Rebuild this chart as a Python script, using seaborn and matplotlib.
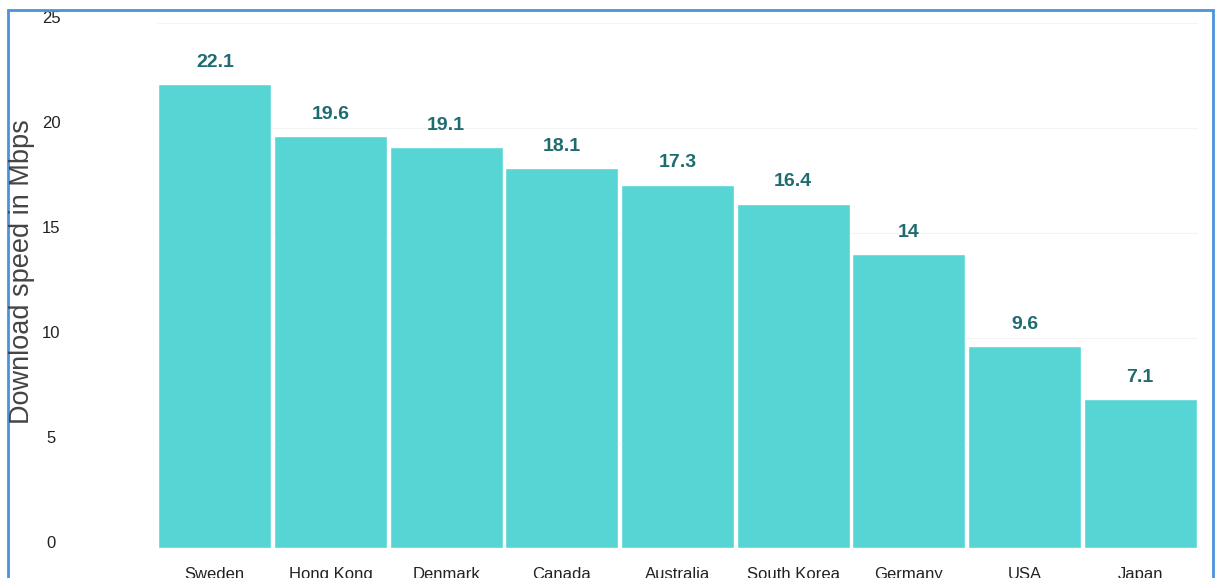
import matplotlib.pyplot as plt
import matplotlib.transforms as mtransforms
import pandas as pd
import seaborn as sns
from matplotlib.patches import Rectangle

# data
countries = ["Sweden", "Hong Kong", "Denmark", "Canada", "Australia",
             "South Korea", "Germany", "USA", "Japan"]
speeds = [22.1, 19.6, 19.1, 18.1, 17.3, 16.4, 14, 9.6, 7.1]
value_labels = ["22.1", "19.6", "19.1", "18.1", "17.3", "16.4", "14", "9.6", "7.1"]
y_ticks = [0, 5, 10, 15, 20, 25]

df = pd.DataFrame({"country": countries, "speed": speeds})

sns.set_style("white")
plt.rcParams['font.family'] = ['Liberation Sans', 'DejaVu Sans']

bar_color = '#57d5d4'
label_color = '#1e6b70'

fig = plt.figure(figsize=(12.17, 5.78), dpi=100)
ax = fig.add_axes([157 / 1217, 30 / 578, (1198 - 157) / 1217, (548 - 23) / 578])

sns.barplot(data=df, x="country", y="speed", color=bar_color, saturation=1,
            width=0.975, ax=ax)

for i, (v, lab) in enumerate(zip(speeds, value_labels)):
  ax.annotate(lab, (i, v), xytext=(0, 12.5), textcoords='offset points',
              ha='center', va='baseline', fontsize=14, fontweight='bold',
              color=label_color)

ax.set_xlim(-0.5, len(countries) - 0.5)
ax.set_ylim(0, 25)
ax.set_yticks(y_ticks)
ax.yaxis.grid(True, color='#f4f4f4', linewidth=0.8)
ax.set_axisbelow(True)
for s in ax.spines.values():
  s.set_visible(False)

ax.tick_params(axis='y', length=0, pad=76, labelsize=12, labelcolor='#222222')
ax.tick_params(axis='x', length=0, pad=14, labelsize=12, labelcolor='#222222')
shift = mtransforms.ScaledTranslation(0, 4 / 72, fig.dpi_scale_trans)
for t in ax.get_yticklabels():
  t.set_horizontalalignment('center')
  t.set_transform(t.get_transform() + shift)
ax.set_xlabel("")
ax.set_ylabel("")

fig.text(22 / 1217, 1 - 272 / 578, "Download speed in Mbps", rotation=90,
         ha='center', va='center', fontsize=19.5, color='#444444')

# blue frame around the graphic
fig.patches.append(Rectangle((8 / 1217, -0.02), (1213 - 8) / 1217, 1 - 10 / 578 + 0.02,
                             transform=fig.transFigure, fill=False,
                             edgecolor='#4a93dc', linewidth=2))

fig.savefig('out.png', dpi=100)
